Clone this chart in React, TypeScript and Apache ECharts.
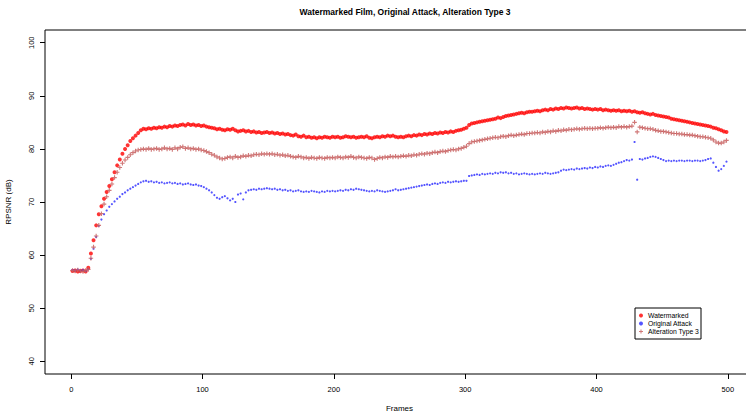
import React, { useEffect, useRef } from "react";
import * as echarts from "echarts";

const TITLE = "Watermarked Film, Original Attack, Alteration Type 3";
const X_NAME = "Frames";
const Y_NAME = "RPSNR (dB)";
const SERIES_NAMES = ["Watermarked", "Original Attack", "Alteration Type 3"];
const X_TICKS = [0, 100, 200, 300, 400, 500];
const Y_TICKS = [40, 50, 60, 70, 80, 90, 100];

// frames 1, 3, 5, ..., 499
const FRAMES = Array.from({ length: 250 }, (_, i) => 2 * i + 1);

const WATERMARKED = [
  57.0, 57.1, 56.9, 57.0, 57.1, 56.9, 57.6, 60.3, 62.8, 65.6, 67.7, 69.2, 70.6, 71.9, 73.0, 74.3, 75.6, 76.9, 78.0, 79.1, 80.0, 80.7, 81.5, 82.0, 82.5,
  83.0, 83.5, 83.8, 83.7, 83.9, 83.8, 84.0, 83.9, 84.1, 84.0, 84.2, 84.1, 84.3, 84.2, 84.4, 84.3, 84.5, 84.6, 84.4, 84.7, 84.5, 84.6, 84.4, 84.5, 84.3,
  84.4, 84.2, 84.1, 84.0, 83.9, 83.7, 83.8, 83.6, 83.5, 83.7, 83.6, 83.8, 83.5, 83.3, 83.4, 83.5, 83.3, 83.4, 83.2, 83.3, 83.1, 83.2, 83.0, 83.1, 83.2,
  83.0, 83.1, 82.9, 83.0, 82.8, 82.9, 82.7, 82.8, 82.6, 82.5, 82.7, 82.4, 82.3, 82.5, 82.2, 82.3, 82.1, 82.2, 82.0, 82.2, 82.1, 82.3, 82.2, 82.1, 82.3,
  82.2, 82.3, 82.1, 82.2, 82.4, 82.3, 82.2, 82.3, 82.1, 82.2, 82.3, 82.2, 82.4, 82.1, 82.0, 82.2, 82.3, 82.2, 82.4, 82.3, 82.5, 82.4, 82.5, 82.3, 82.2,
  82.3, 82.2, 82.4, 82.5, 82.4, 82.6, 82.5, 82.7, 82.6, 82.8, 82.7, 82.9, 82.8, 83.0, 82.9, 83.1, 83.0, 83.2, 83.1, 83.3, 83.2, 83.4, 83.5, 83.6, 83.8,
  84.0, 84.5, 84.8, 84.9, 85.0, 85.1, 85.2, 85.3, 85.4, 85.5, 85.6, 85.7, 85.9, 85.8, 86.0, 86.2, 86.3, 86.4, 86.5, 86.6, 86.7, 86.8, 86.7, 86.9, 87.0,
  87.0, 87.1, 87.2, 87.1, 87.3, 87.4, 87.3, 87.5, 87.4, 87.6, 87.5, 87.7, 87.6, 87.8, 87.7, 87.6, 87.7, 87.8, 87.6, 87.7, 87.5, 87.6, 87.5, 87.4, 87.5,
  87.4, 87.5, 87.3, 87.4, 87.3, 87.2, 87.3, 87.2, 87.3, 87.1, 87.2, 87.1, 87.2, 87.0, 87.1, 86.9, 86.8, 86.9, 86.7, 86.6, 86.5, 86.6, 86.4, 86.3, 86.2,
  86.1, 86.0, 85.9, 85.7, 85.6, 85.5, 85.4, 85.3, 85.2, 85.1, 85.0, 84.9, 84.8, 84.7, 84.6, 84.5, 84.4, 84.3, 84.2, 84.0, 83.9, 83.7, 83.5, 83.3, 83.2,
];

const ORIGINAL_ATTACK = [
  57.2, 57.1, 57.3, 57.1, 57.2, 57.0, 57.3, 59.3, 61.2, 63.4, 65.5, 66.7, 67.7, 68.4, 69.1, 69.6, 70.1, 70.6, 71.0, 71.5, 71.8, 72.2, 72.5, 72.8, 73.1,
  73.4, 73.7, 73.9, 74.0, 73.8, 73.9, 73.7, 73.8, 73.6, 73.7, 73.5, 73.6, 73.7, 73.5, 73.6, 73.4, 73.5, 73.3, 73.4, 73.5, 73.3, 73.2, 73.3, 73.1, 73.0,
  72.8, 72.5, 72.2, 71.8, 71.3, 70.8, 70.6, 70.9, 71.1, 70.7, 70.3, 70.6, 70.0, 71.4, 71.6, 70.5, 71.8, 72.2, 72.3, 72.4, 72.3, 72.5, 72.4, 72.5, 72.6,
  72.5, 72.4, 72.5, 72.3, 72.4, 72.2, 72.3, 72.1, 72.2, 72.0, 72.1, 72.2, 72.0, 71.9, 72.0, 71.9, 72.1, 72.0, 71.9, 71.8, 72.0, 71.9, 72.1, 72.0, 72.1,
  72.0, 72.1, 72.2, 72.1, 72.3, 72.2, 72.4, 72.3, 72.5, 72.4, 72.3, 72.2, 72.1, 72.0, 72.1, 72.0, 72.2, 72.1, 72.0, 71.9, 72.0, 72.1, 72.2, 72.4, 72.2,
  72.3, 72.4, 72.5, 72.6, 72.7, 72.8, 72.9, 73.0, 73.1, 73.2, 73.3, 73.2, 73.4, 73.5, 73.4, 73.6, 73.7, 73.6, 73.8, 73.7, 73.8, 73.9, 73.8, 73.9, 74.0,
  74.0, 74.9, 75.0, 75.1, 75.2, 75.1, 75.3, 75.2, 75.3, 75.4, 75.3, 75.5, 75.4, 75.6, 75.5, 75.6, 75.4, 75.5, 75.3, 75.4, 75.2, 75.3, 75.4, 75.3, 75.2,
  75.3, 75.2, 75.3, 75.4, 75.3, 75.5, 75.4, 75.3, 75.4, 75.5, 75.6, 75.9, 76.1, 76.0, 76.1, 76.2, 76.1, 76.3, 76.2, 76.3, 76.4, 76.3, 76.5, 76.4, 76.6,
  76.5, 76.7, 76.6, 76.8, 76.9, 76.8, 77.0, 77.2, 77.4, 77.5, 77.7, 77.9, 77.8, 78.0, 81.3, 74.2, 78.1, 78.0, 78.2, 78.3, 78.5, 78.6, 78.5, 78.3, 78.1,
  77.9, 77.7, 77.8, 77.7, 77.8, 77.7, 77.8, 77.8, 77.7, 77.8, 77.8, 77.7, 77.8, 77.8, 77.7, 77.8, 77.9, 78.1, 78.2, 77.4, 76.6, 75.9, 76.2, 76.8, 77.6,
];

const ALTERATION_3 = [
  57.1, 57.0, 57.2, 57.0, 56.9, 57.1, 57.3, 59.4, 61.5, 63.6, 65.6, 67.8, 69.6, 71.0, 72.2, 73.4, 74.6, 75.6, 76.5, 77.3, 77.9, 78.4, 78.9, 79.3, 79.6,
  79.8, 79.9, 80.0, 79.9, 80.1, 79.9, 80.0, 80.1, 79.9, 80.0, 80.2, 80.0, 80.1, 79.9, 80.2, 80.0, 80.3, 80.4, 80.1, 80.2, 80.0, 80.1, 79.9, 80.0, 79.8,
  79.7, 79.5, 79.3, 79.0, 78.8, 78.5, 78.3, 78.1, 78.2, 78.4, 78.5, 78.3, 78.6, 78.4, 78.5, 78.7, 78.6, 78.8, 78.7, 78.9, 79.0, 78.9, 79.1, 79.0, 79.1,
  79.0, 79.1, 78.9, 79.0, 78.8, 78.9, 78.7, 78.8, 78.6, 78.5, 78.4, 78.6, 78.5, 78.3, 78.4, 78.2, 78.4, 78.3, 78.2, 78.4, 78.3, 78.2, 78.4, 78.3, 78.4,
  78.3, 78.5, 78.4, 78.3, 78.5, 78.4, 78.6, 78.4, 78.3, 78.5, 78.4, 78.3, 78.2, 78.4, 78.3, 78.0, 78.2, 78.4, 78.3, 78.5, 78.4, 78.6, 78.5, 78.6, 78.5,
  78.6, 78.7, 78.6, 78.8, 78.7, 78.9, 78.8, 79.0, 79.1, 79.0, 79.2, 79.1, 79.3, 79.4, 79.3, 79.5, 79.6, 79.5, 79.7, 79.8, 79.9, 79.8, 80.0, 80.1, 80.3,
  80.5, 81.0, 81.3, 81.4, 81.5, 81.6, 81.7, 81.8, 81.9, 82.0, 82.1, 82.2, 82.1, 82.3, 82.4, 82.3, 82.5, 82.6, 82.5, 82.6, 82.7, 82.8, 82.7, 82.9, 82.9,
  83.0, 83.0, 83.1, 83.0, 83.2, 83.1, 83.3, 83.2, 83.4, 83.3, 83.5, 83.4, 83.6, 83.5, 83.7, 83.6, 83.7, 83.8, 83.7, 83.8, 83.9, 83.8, 83.9, 83.8, 83.9,
  83.9, 84.0, 83.9, 84.0, 84.1, 84.0, 84.1, 84.0, 84.2, 84.1, 84.2, 84.1, 84.2, 84.3, 85.0, 83.2, 84.1, 84.0, 83.9, 83.8, 83.8, 83.7, 83.5, 83.4, 83.3,
  83.3, 83.2, 83.1, 83.0, 82.9, 82.9, 82.8, 82.8, 82.7, 82.7, 82.6, 82.6, 82.5, 82.4, 82.3, 82.3, 82.2, 82.1, 82.0, 81.7, 81.3, 81.1, 81.1, 81.3, 81.6,
];

const FONT = "'Liberation Sans', Arial, Helvetica, sans-serif";
const PLUS = "path://M3,0H5V3H8V5H5V8H3V5H0V3H3Z";

export default function App() {
  const ref = useRef<HTMLDivElement>(null);

  useEffect(() => {
    document.body.style.margin = "0";
    if (!ref.current) return;
    const chart = echarts.init(ref.current, null, { renderer: "svg" });
    const pair = (arr: number[]) => FRAMES.map((f, i) => [f, arr[i]]);
    chart.setOption({
      animation: false,
      backgroundColor: "#fff",
      textStyle: { fontFamily: FONT },
      title: {
        text: TITLE,
        left: 400,
        top: 2,
        textAlign: "center",
        textStyle: { fontSize: 8.5, fontWeight: "bold", color: "#000", fontFamily: FONT },
      },
      grid: {
        left: 45,
        top: 30,
        width: 709,
        height: 344,
        show: true,
        borderColor: "#000",
        borderWidth: 1,
        containLabel: false,
        outerBoundsMode: "none",
      },
      legend: {
        orient: "vertical",
        left: 635,
        top: 308,
        padding: [4, 2, 4, 4],
        itemWidth: 4,
        itemHeight: 4,
        itemGap: 1,
        borderColor: "#000",
        borderWidth: 1,
        backgroundColor: "#fff",
        textStyle: { fontSize: 6.8, color: "#000", fontFamily: FONT },
        data: SERIES_NAMES,
      },
      xAxis: {
        type: "value",
        min: -19.96,
        max: 519.96,
        splitLine: { show: false },
        axisLine: { show: false, onZero: false },
        axisTick: { show: true, length: 5, customValues: X_TICKS, lineStyle: { color: "#000" } },
        axisLabel: { customValues: X_TICKS, fontSize: 7.5, color: "#000", margin: 11, fontFamily: FONT },
        name: X_NAME,
        nameLocation: "middle",
        nameGap: 30,
        nameTextStyle: { fontSize: 8, color: "#000", fontFamily: FONT },
      },
      yAxis: {
        type: "value",
        min: 37.6,
        max: 102.4,
        splitLine: { show: false },
        axisLine: { show: false, onZero: false },
        axisTick: { show: true, length: 5, customValues: Y_TICKS, lineStyle: { color: "#000" } },
        axisLabel: { customValues: Y_TICKS, rotate: 90, fontSize: 7.5, color: "#000", margin: 10, fontFamily: FONT },
        name: Y_NAME,
        nameLocation: "middle",
        nameGap: 33,
        nameTextStyle: { fontSize: 8, color: "#000", fontFamily: FONT },
      },
      series: [
        {
          name: SERIES_NAMES[0],
          type: "scatter",
          symbol: "circle",
          symbolSize: 4,
          itemStyle: { color: "#ff0000" },
          data: pair(WATERMARKED),
          z: 3,
        },
        {
          name: SERIES_NAMES[1],
          type: "scatter",
          symbol: "circle",
          symbolSize: 2.2,
          itemStyle: { color: "#2a2aff" },
          data: pair(ORIGINAL_ATTACK),
          z: 4,
        },
        {
          name: SERIES_NAMES[2],
          type: "scatter",
          symbol: PLUS,
          symbolSize: 4.5,
          itemStyle: { color: "#c86060", opacity: 0.85 },
          data: pair(ALTERATION_3),
          z: 5,
        },
      ],
    });
    return () => chart.dispose();
  }, []);

  return <div ref={ref} style={{ width: 746, height: 415 }} />;
}
